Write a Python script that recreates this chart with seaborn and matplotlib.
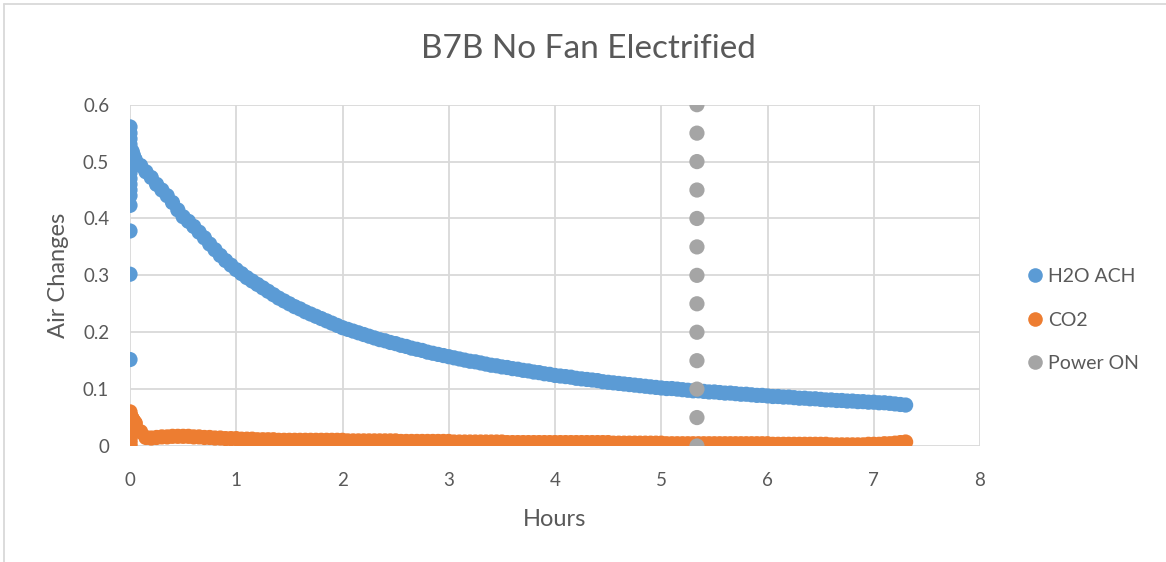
import numpy as np
import pandas as pd
import matplotlib
matplotlib.use("Agg")
import matplotlib.pyplot as plt
from matplotlib.lines import Line2D
import seaborn as sns

SERIES = ["H2O ACH", "CO2", "Power ON"]
COLORS = ["#5b9bd5", "#ed7d31", "#a5a5a5"]

# Readings taken while the logger was starting up (t = 0 h)
h2o_at_start = [0.152, 0.302, 0.378, 0.423, 0.440, 0.450, 0.460, 0.470, 0.480,
                0.490, 0.500, 0.510, 0.520, 0.530, 0.540, 0.550, 0.561]
co2_at_start = [0.000, 0.005, 0.010, 0.015, 0.020, 0.025, 0.030, 0.035, 0.040,
                0.045, 0.050, 0.055, 0.060]

# First minutes after start
early_hours = [0.01, 0.02, 0.03, 0.04]
h2o_early = [0.512, 0.518, 0.512, 0.506]
co2_early = [0.052, 0.048, 0.045, 0.042]

# Logged every 3 minutes from 0.05 h to 7.30 h
SAMPLE_STEP_H = 0.05
h2o_ach = [
    0.503, 0.493, 0.482, 0.472, 0.460, 0.450, 0.440, 0.428, 0.415, 0.403,
    0.395, 0.386, 0.376, 0.366, 0.355, 0.345, 0.335, 0.326, 0.318, 0.310,
    0.303, 0.296, 0.290, 0.284, 0.278, 0.272, 0.266, 0.260, 0.255, 0.250,
    0.245, 0.241, 0.236, 0.232, 0.228, 0.224, 0.220, 0.216, 0.212, 0.208,
    0.205, 0.202, 0.199, 0.196, 0.193, 0.190, 0.187, 0.185, 0.182, 0.180,
    0.177, 0.175, 0.172, 0.170, 0.168, 0.165, 0.163, 0.161, 0.159, 0.157,
    0.155, 0.153, 0.151, 0.149, 0.148, 0.146, 0.144, 0.142, 0.141, 0.139,
    0.138, 0.136, 0.135, 0.133, 0.132, 0.130, 0.129, 0.127, 0.126, 0.124,
    0.123, 0.122, 0.121, 0.119, 0.118, 0.117, 0.116, 0.115, 0.113, 0.112,
    0.111, 0.110, 0.109, 0.108, 0.107, 0.106, 0.105, 0.104, 0.103, 0.102,
    0.101, 0.101, 0.100, 0.099, 0.098, 0.097, 0.097, 0.096, 0.095, 0.095,
    0.094, 0.093, 0.093, 0.092, 0.091, 0.091, 0.090, 0.089, 0.089, 0.088,
    0.087, 0.087, 0.086, 0.086, 0.085, 0.084, 0.084, 0.083, 0.083, 0.082,
    0.081, 0.081, 0.080, 0.080, 0.079, 0.079, 0.078, 0.078, 0.077, 0.077,
    0.076, 0.076, 0.075, 0.074, 0.073, 0.072,
]
co2 = [
    0.040, 0.025, 0.015, 0.014, 0.015, 0.016, 0.016, 0.017, 0.017, 0.017,
    0.017, 0.016, 0.016, 0.015, 0.015, 0.014, 0.014, 0.013, 0.013, 0.013,
    0.012, 0.012, 0.012, 0.011, 0.011, 0.011, 0.011, 0.010, 0.010, 0.010,
    0.010, 0.010, 0.010, 0.010, 0.010, 0.010, 0.010, 0.010, 0.010, 0.010,
    0.009, 0.009, 0.009, 0.009, 0.009, 0.009, 0.009, 0.009, 0.009, 0.009,
    0.008, 0.008, 0.008, 0.008, 0.008, 0.008, 0.008, 0.008, 0.008, 0.008,
    0.007, 0.007, 0.007, 0.007, 0.007, 0.007, 0.007, 0.007, 0.007, 0.007,
    0.006, 0.006, 0.006, 0.006, 0.006, 0.006, 0.006, 0.006, 0.006, 0.006,
    0.006, 0.006, 0.006, 0.006, 0.006, 0.006, 0.006, 0.006, 0.006, 0.006,
    0.005, 0.005, 0.005, 0.005, 0.005, 0.005, 0.005, 0.005, 0.005, 0.005,
    0.004, 0.004, 0.004, 0.004, 0.004, 0.004, 0.004, 0.004, 0.004, 0.004,
    0.004, 0.004, 0.004, 0.004, 0.004, 0.004, 0.004, 0.004, 0.004, 0.004,
    0.003, 0.003, 0.003, 0.003, 0.003, 0.003, 0.003, 0.003, 0.003, 0.003,
    0.003, 0.002, 0.002, 0.002, 0.002, 0.002, 0.002, 0.002, 0.003, 0.003,
    0.003, 0.004, 0.004, 0.005, 0.006, 0.007,
]

# Marker line for the moment the power was switched on
power_on_hour = 5.336
power_on_levels = [0.00, 0.05, 0.10, 0.15, 0.20, 0.25, 0.30, 0.35, 0.40,
                   0.45, 0.50, 0.55, 0.60]

x_ticks = [0, 1, 2, 3, 4, 5, 6, 7, 8]
y_ticks = [0, 0.1, 0.2, 0.3, 0.4, 0.5, 0.6]
y_tick_labels = ["0", "0.1", "0.2", "0.3", "0.4", "0.5", "0.6"]

# ---- long-form table -------------------------------------------------------
logged_hours = list(np.round(SAMPLE_STEP_H * np.arange(1, len(h2o_ach) + 1), 2))

h2o_hours = [0.0] * len(h2o_at_start) + early_hours + logged_hours
h2o_vals = h2o_at_start + h2o_early + h2o_ach
co2_hours = [0.0] * len(co2_at_start) + early_hours + logged_hours
co2_vals = co2_at_start + co2_early + co2

df = pd.DataFrame({
    "Hours": h2o_hours + co2_hours + [power_on_hour] * len(power_on_levels),
    "Air Changes": h2o_vals + co2_vals + power_on_levels,
    "Series": (["H2O ACH"] * len(h2o_vals) + ["CO2"] * len(co2_vals)
               + ["Power ON"] * len(power_on_levels)),
})

# ---- drawing ---------------------------------------------------------------
sns.set_theme(style="white")
plt.rcParams["font.family"] = ["Lato", "DejaVu Sans"]
TEXT = "#595959"
GRID = "#d9d9d9"

fig = plt.figure(figsize=(11.66, 5.62), dpi=100)
ax = fig.add_axes([130 / 1166, 1 - 446 / 562, 850 / 1166, (446 - 104.7) / 562])

sns.scatterplot(data=df, x="Hours", y="Air Changes", hue="Series",
                hue_order=SERIES, palette=COLORS, s=120, linewidth=0,
                alpha=1, ax=ax, zorder=3, legend=False)

ax.set_xlim(0, 8)
ax.set_ylim(0, 0.6)
ax.set_xticks(x_ticks)
ax.set_xticklabels([str(t) for t in x_ticks])
ax.set_yticks(y_ticks)
ax.set_yticklabels(y_tick_labels)
ax.grid(True, color=GRID, linewidth=1.3, zorder=0)
ax.set_axisbelow(True)
for side, sp in ax.spines.items():
    sp.set_visible(False)
ax.tick_params(axis="both", length=0, colors=TEXT, labelsize=13.5)
ax.tick_params(axis="y", pad=15)
ax.tick_params(axis="x", pad=19)
for lbl in ax.get_xticklabels() + ax.get_yticklabels():
    lbl.set_clip_on(False)

ax.set_xlabel("Hours", fontsize=17, color=TEXT, labelpad=14)
ax.set_ylabel("Air Changes", fontsize=17, color=TEXT, labelpad=10)

fig.text(588 / 1166, 1 - 49 / 562, "B7B No Fan Electrified", ha="center",
         va="center", fontsize=24, color=TEXT)

handles = [Line2D([], [], marker="o", linestyle="none", markersize=10.5,
                  markerfacecolor=c, markeredgewidth=0) for c in COLORS]
leg = fig.legend(handles, SERIES, loc="center left",
                 bbox_to_anchor=(1029 / 1166, 1 - 320 / 562),
                 frameon=False, fontsize=14, handlelength=0.6,
                 handletextpad=0.4, labelspacing=1.35, borderpad=0,
                 borderaxespad=0)
for t in leg.get_texts():
    t.set_color(TEXT)

# chart-area border along the top and left
fig.add_artist(Line2D([3.5 / 1166, 3.5 / 1166], [0, 1 - 3.5 / 562],
                      color=GRID, linewidth=1.3, transform=fig.transFigure))
fig.add_artist(Line2D([3.5 / 1166, 1], [1 - 3.5 / 562, 1 - 3.5 / 562],
                      color=GRID, linewidth=1.3, transform=fig.transFigure))

fig.savefig("out.png", dpi=100, facecolor="white")
